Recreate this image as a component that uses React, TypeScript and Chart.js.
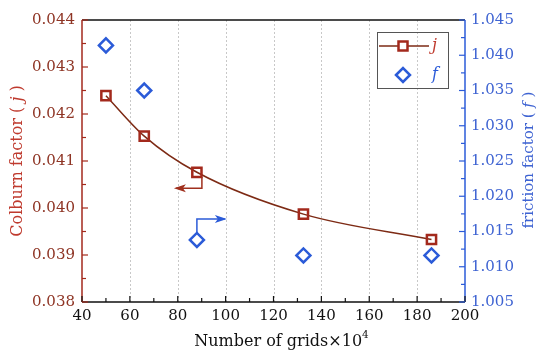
import React, { useEffect, useRef } from "react";
import { Chart, registerables } from "chart.js";

Chart.register(...registerables);

const gridCounts = [50, 66, 88, 132.5, 186];
const jValues = [0.04239, 0.04153, 0.04076, 0.03987, 0.03933];
const fValues = [1.0414, 1.035, 1.0138, 1.0116, 1.0116];
const xTickValues = [40, 60, 80, 100, 120, 140, 160, 180, 200];
const jTickRange = [0.038, 0.044];
const fTickRange = [1.005, 1.045];

const FONT = "'DejaVu Serif', 'Liberation Serif', serif";
const RED_LINE = "#7d2a14";
const RED_MARK = "#a3291c";
const RED_TEXT = "#8e3424";
const RED_TITLE = "#bf3a2e";
const BLUE = "#2b5bd8";
const BLUE_TEXT = "#3e63d2";

function drawArrow(ctx: CanvasRenderingContext2D, pts: number[][], color: string) {
  ctx.save();
  ctx.strokeStyle = color;
  ctx.fillStyle = color;
  ctx.lineWidth = 1.5;
  ctx.beginPath();
  ctx.moveTo(pts[0][0], pts[0][1]);
  for (let i = 1; i < pts.length; i++) ctx.lineTo(pts[i][0], pts[i][1]);
  ctx.stroke();
  const [x2, y2] = pts[pts.length - 1];
  const [x1, y1] = pts[pts.length - 2];
  const ang = Math.atan2(y2 - y1, x2 - x1);
  const L = 10, W = 4;
  ctx.beginPath();
  ctx.moveTo(x2 + Math.cos(ang) * 2, y2 + Math.sin(ang) * 2);
  ctx.lineTo(x2 - Math.cos(ang) * L - Math.sin(ang) * W, y2 - Math.sin(ang) * L + Math.cos(ang) * W);
  ctx.lineTo(x2 - Math.cos(ang) * (L - 3), y2 - Math.sin(ang) * (L - 3));
  ctx.lineTo(x2 - Math.cos(ang) * L + Math.sin(ang) * W, y2 - Math.sin(ang) * L - Math.cos(ang) * W);
  ctx.closePath();
  ctx.fill();
  ctx.restore();
}

function drawParts(ctx: CanvasRenderingContext2D, parts: { t: string; italic?: boolean; sup?: boolean }[], size: number, color: string) {
  const fontOf = (p: any) => `${p.italic ? "italic " : ""}${p.sup ? size * 0.65 : size}px ${FONT}`;
  let total = 0;
  const widths = parts.map((p) => {
    ctx.font = fontOf(p);
    const w = ctx.measureText(p.t).width;
    total += w;
    return w;
  });
  let x = -total / 2;
  ctx.fillStyle = color;
  ctx.textBaseline = "middle";
  ctx.textAlign = "left";
  parts.forEach((p, i) => {
    ctx.font = fontOf(p);
    ctx.fillText(p.t, x, p.sup ? -size * 0.4 : 0);
    x += widths[i];
  });
}

const decorPlugin = {
  id: "decor",
  beforeDatasetsDraw(chart: any) {
    const { ctx, chartArea: a, scales } = chart;
    ctx.save();
    ctx.strokeStyle = "#c8c8c8";
    ctx.lineWidth = 1;
    ctx.setLineDash([2, 2]);
    xTickValues.slice(1, -1).forEach((v) => {
      const x = Math.round(scales.x.getPixelForValue(v)) + 0.5;
      ctx.beginPath();
      ctx.moveTo(x, a.top);
      ctx.lineTo(x, a.bottom);
      ctx.stroke();
    });
    ctx.restore();
  },
  afterDraw(chart: any) {
    const { ctx, chartArea: a, scales } = chart;
    const sx = scales.x, sj = scales.yj, sf = scales.yf;
    ctx.save();
    ctx.lineWidth = 1.5;
    ctx.strokeStyle = "#111";
    ctx.beginPath();
    ctx.moveTo(a.left, a.top); ctx.lineTo(a.right, a.top);
    ctx.moveTo(a.left, a.bottom); ctx.lineTo(a.right, a.bottom);
    ctx.stroke();
    ctx.strokeStyle = RED_MARK;
    ctx.beginPath(); ctx.moveTo(a.left, a.top); ctx.lineTo(a.left, a.bottom); ctx.stroke();
    ctx.strokeStyle = BLUE;
    ctx.beginPath(); ctx.moveTo(a.right, a.top); ctx.lineTo(a.right, a.bottom); ctx.stroke();

    ctx.lineWidth = 1.2;
    ctx.strokeStyle = "#111";
    for (let v = xTickValues[0]; v <= xTickValues[xTickValues.length - 1]; v += 10) {
      const x = sx.getPixelForValue(v);
      const len = v % 20 === 0 ? 6 : 4;
      ctx.beginPath(); ctx.moveTo(x, a.bottom); ctx.lineTo(x, a.bottom - len); ctx.stroke();
    }
    ctx.strokeStyle = RED_MARK;
    for (let i = 0; i <= 12; i++) {
      const v = jTickRange[0] + i * 0.0005;
      const y = sj.getPixelForValue(v);
      const len = i % 2 === 0 ? 6 : 4;
      ctx.beginPath(); ctx.moveTo(a.left, y); ctx.lineTo(a.left + len, y); ctx.stroke();
    }
    ctx.strokeStyle = BLUE;
    for (let i = 0; i <= 16; i++) {
      const v = fTickRange[0] + i * 0.0025;
      const y = sf.getPixelForValue(v);
      const len = i % 2 === 0 ? 6 : 4;
      ctx.beginPath(); ctx.moveTo(a.right, y); ctx.lineTo(a.right - len, y); ctx.stroke();
    }

    const jx = sx.getPixelForValue(gridCounts[2]);
    const jy = sj.getPixelForValue(jValues[2]);
    drawArrow(ctx, [[jx + 5, jy + 5], [jx + 5, jy + 16], [jx - 21, jy + 16]], "#a0301e");
    const fy = sf.getPixelForValue(fValues[2]);
    drawArrow(ctx, [[jx, fy - 7], [jx, fy - 21], [jx + 28, fy - 21]], BLUE);

    ctx.lineWidth = 1;
    ctx.strokeStyle = "#555";
    ctx.strokeRect(377.5, 32.5, 71, 56);
    ctx.strokeStyle = RED_LINE;
    ctx.lineWidth = 1.5;
    ctx.beginPath(); ctx.moveTo(379, 46); ctx.lineTo(429, 46); ctx.stroke();
    ctx.fillStyle = "#fff";
    ctx.strokeStyle = RED_MARK;
    ctx.lineWidth = 2.5;
    ctx.fillRect(398.5, 41.5, 9, 9);
    ctx.strokeRect(398.5, 41.5, 9, 9);
    ctx.strokeStyle = BLUE;
    ctx.beginPath();
    ctx.moveTo(396, 75); ctx.lineTo(403, 68); ctx.lineTo(410, 75); ctx.lineTo(403, 82); ctx.closePath();
    ctx.stroke();
    ctx.font = `italic 16px ${FONT}`;
    ctx.textBaseline = "middle";
    ctx.textAlign = "left";
    ctx.fillStyle = RED_TITLE;
    ctx.fillText("j", 432, 46);
    ctx.fillStyle = BLUE;
    ctx.fillText("f", 432, 75);

    ctx.save();
    ctx.translate(18, 161);
    ctx.rotate(-Math.PI / 2);
    drawParts(ctx, [{ t: "Colburn factor ( " }, { t: "j", italic: true }, { t: " )" }], 16, RED_TITLE);
    ctx.restore();
    ctx.save();
    ctx.translate(529, 160);
    ctx.rotate(-Math.PI / 2);
    drawParts(ctx, [{ t: "friction factor ( " }, { t: "f", italic: true }, { t: " )" }], 15, BLUE_TEXT);
    ctx.restore();
    ctx.save();
    ctx.translate((a.left + a.right) / 2 + 8, 342);
    drawParts(ctx, [{ t: "Number of grids×10" }, { t: "4", sup: true }], 16, "#111");
    ctx.restore();
    ctx.restore();
  },
};

export default function App() {
  const ref = useRef<HTMLCanvasElement>(null);
  useEffect(() => {
    if (!ref.current) return;
    const chart = new Chart(ref.current, {
      type: "scatter",
      data: {
        datasets: [
          {
            label: "j",
            data: gridCounts.map((x, i) => ({ x, y: jValues[i] })),
            yAxisID: "yj",
            showLine: true,
            cubicInterpolationMode: "monotone",
            borderColor: RED_LINE,
            borderWidth: 1.5,
            pointStyle: "rect",
            pointRadius: 6.5,
            pointBorderWidth: 2.5,
            pointBorderColor: RED_MARK,
            pointBackgroundColor: "rgba(255,255,255,0)",
          } as any,
          {
            label: "f",
            data: gridCounts.map((x, i) => ({ x, y: fValues[i] })),
            yAxisID: "yf",
            showLine: false,
            pointStyle: "rectRot",
            pointRadius: 7,
            pointBorderWidth: 2.5,
            pointBorderColor: BLUE,
            pointBackgroundColor: "rgba(255,255,255,0)",
          } as any,
        ],
      },
      options: {
        animation: false,
        responsive: false,
        layout: { padding: { top: 20, left: 0, right: 0, bottom: 0 } },
        plugins: { legend: { display: false }, tooltip: { enabled: false } },
        scales: {
          x: {
            type: "linear",
            min: xTickValues[0],
            max: xTickValues[xTickValues.length - 1],
            afterBuildTicks: (s: any) => { s.ticks = xTickValues.map((v) => ({ value: v })); },
            afterFit: (s: any) => { s.height = 62; },
            grid: { display: false, drawTicks: false },
            border: { display: false },
            ticks: { padding: 5, color: "#111", font: { family: FONT, size: 15 } },
          },
          yj: {
            type: "linear",
            position: "left",
            min: jTickRange[0],
            max: jTickRange[1],
            afterBuildTicks: (s: any) => {
              const t = [];
              for (let i = 0; i <= 6; i++) t.push({ value: jTickRange[0] + i * 0.001 });
              s.ticks = t;
            },
            afterFit: (s: any) => { s.width = 82; },
            grid: { display: false, drawTicks: false },
            border: { display: false },
            ticks: {
              padding: 7,
              color: RED_TEXT,
              font: { family: FONT, size: 15 },
              callback: (v: any) => Number(v).toFixed(3),
            },
          },
          yf: {
            type: "linear",
            position: "right",
            min: fTickRange[0],
            max: fTickRange[1],
            afterBuildTicks: (s: any) => {
              const t = [];
              for (let i = 0; i <= 8; i++) t.push({ value: fTickRange[0] + i * 0.005 });
              s.ticks = t;
            },
            afterFit: (s: any) => { s.width = 85; },
            grid: { display: false, drawTicks: false },
            border: { display: false },
            ticks: {
              padding: 6,
              color: BLUE_TEXT,
              font: { family: FONT, size: 15 },
              callback: (v: any) => Number(v).toFixed(3),
            },
          },
        },
      },
      plugins: [decorPlugin],
    } as any);
    return () => chart.destroy();
  }, []);
  return (
    <div style={{ position: "absolute", left: 0, top: 0, width: 550, height: 364, background: "#fff" }}>
      <canvas ref={ref} width={550} height={364} style={{ display: "block" }} />
    </div>
  );
}
